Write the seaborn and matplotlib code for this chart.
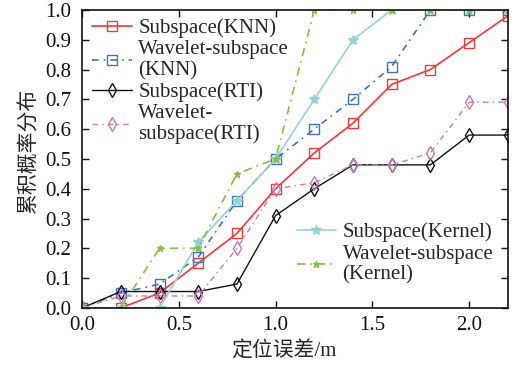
import numpy as np
import matplotlib
matplotlib.use("Agg")
import matplotlib.pyplot as plt
import seaborn as sns

# error distance (m)
err = [0.0, 0.2, 0.4, 0.6, 0.8, 1.0, 1.2, 1.4, 1.6, 1.8, 2.0, 2.2]

sub_knn = [0.0, 0.0, 0.05, 0.15, 0.25, 0.40, 0.52, 0.62, 0.75, 0.80, 0.89, 0.98]
wav_knn = [0.0, 0.05, 0.08, 0.17, 0.36, 0.50, 0.60, 0.70, 0.81, 1.0, 1.0, 1.0]
sub_rti = [0.0, 0.055, 0.055, 0.055, 0.08, 0.31, 0.40, 0.48, 0.48, 0.48, 0.58, 0.58]
wav_rti = [0.0, 0.04, 0.04, 0.04, 0.20, 0.40, 0.42, 0.48, 0.48, 0.52, 0.69, 0.69]
sub_ker = [0.0, 0.0, 0.0, 0.22, 0.36, 0.50, 0.70, 0.90, 1.0, 1.0, 1.0, 1.0]
wav_ker = [0.0, 0.0, 0.20, 0.20, 0.45, 0.50, 1.0, 1.0, 1.0, 1.0, 1.0, 1.0]

labels = ["Subspace(KNN)", "Wavelet-subspace\n(KNN)", "Subspace(RTI)",
          "Wavelet-\nsubspace(RTI)", "Subspace(Kernel)", "Wavelet-subspace\n(Kernel)"]

xticks = [0.0, 0.5, 1.0, 1.5, 2.0]
yticks = [0.0, 0.1, 0.2, 0.3, 0.4, 0.5, 0.6, 0.7, 0.8, 0.9, 1.0]

sns.set_style("ticks")
plt.rcParams['font.family'] = ['Liberation Serif', 'Noto Sans CJK SC']
SERIF = ['Liberation Serif']
MIXED = ['Liberation Serif', 'Noto Sans CJK SC']
CJK = ['Noto Sans CJK SC', 'Liberation Serif']

fig = plt.figure(figsize=(5.23, 3.67), dpi=100)
ax = fig.add_axes([0.157, 0.161, 0.814, 0.812])

styles = [
    (sub_knn, "#f03a3a", "s", "-", 7.5, 1.2),
    (wav_knn, "#3f72c0", "s", (0, (4, 3, 1, 3)), 7.5, 1.2),
    (sub_rti, "#111111", "d", "-", 7.5, 1.0),
    (wav_rti, "#c47ab8", "d", (0, (4, 3, 1, 3)), 7.5, 1.0),
    (sub_ker, "#94d2d4", "*", "-", 7, 1.2),
    (wav_ker, "#82c040", "*", (0, (5, 3, 1, 3)), 5, 1.2),
]

for (vals, col, mk, ls, ms, lw), lab in zip(styles, labels):
    filled = mk == "*"
    sns.lineplot(x=err, y=vals, ax=ax, color=col, marker=mk, linestyle=ls,
                 linewidth=lw, markersize=ms, label=lab,
                 markerfacecolor=col if filled else "none",
                 markeredgecolor=col, markeredgewidth=1.0)

ax.set_xlim(0, 2.2)
ax.set_ylim(0, 1.0)
ax.set_xticks(xticks)
ax.set_xticklabels([f"{v:.1f}" for v in xticks], family=SERIF)
ax.set_yticks(yticks)
ax.set_yticklabels([f"{v:.1f}" for v in yticks], family=SERIF)
ax.tick_params(direction="in", length=5, width=1, top=True, right=True,
               labelsize=15, colors="#111111")
ax.tick_params(axis="x", pad=6)
ax.tick_params(axis="y", pad=8)
for s in ax.spines.values():
    s.set_linewidth(1.2)
    s.set_color("#111111")

ax.set_xlabel("定位误差/m", fontsize=15, family=MIXED)
ax.set_ylabel("累积概率分布", fontsize=15, family=CJK)
ax.xaxis.set_label_coords(0.475, -0.112)
ax.yaxis.set_label_coords(-0.10, 0.53)

handles, labs = ax.get_legend_handles_labels()
ax.get_legend().remove()
leg1 = ax.legend(handles[:4], labs[:4], loc="upper left", bbox_to_anchor=(-0.01, 1.02),
                 frameon=False, fontsize=15, handlelength=1.9, handletextpad=0.3,
                 labelspacing=0.1, borderaxespad=0.3, numpoints=1)
for t in leg1.get_texts():
    t.set_linespacing(1.1)
ax.add_artist(leg1)
leg2 = ax.legend(handles[4:], labs[4:], loc="lower right", bbox_to_anchor=(1.0, 0.03),
                 frameon=False, fontsize=15, handlelength=1.9, handletextpad=0.3,
                 labelspacing=0.12, borderaxespad=0.3, numpoints=1)
for t in leg2.get_texts():
    t.set_linespacing(1.1)

fig.savefig("out.png", dpi=100)
